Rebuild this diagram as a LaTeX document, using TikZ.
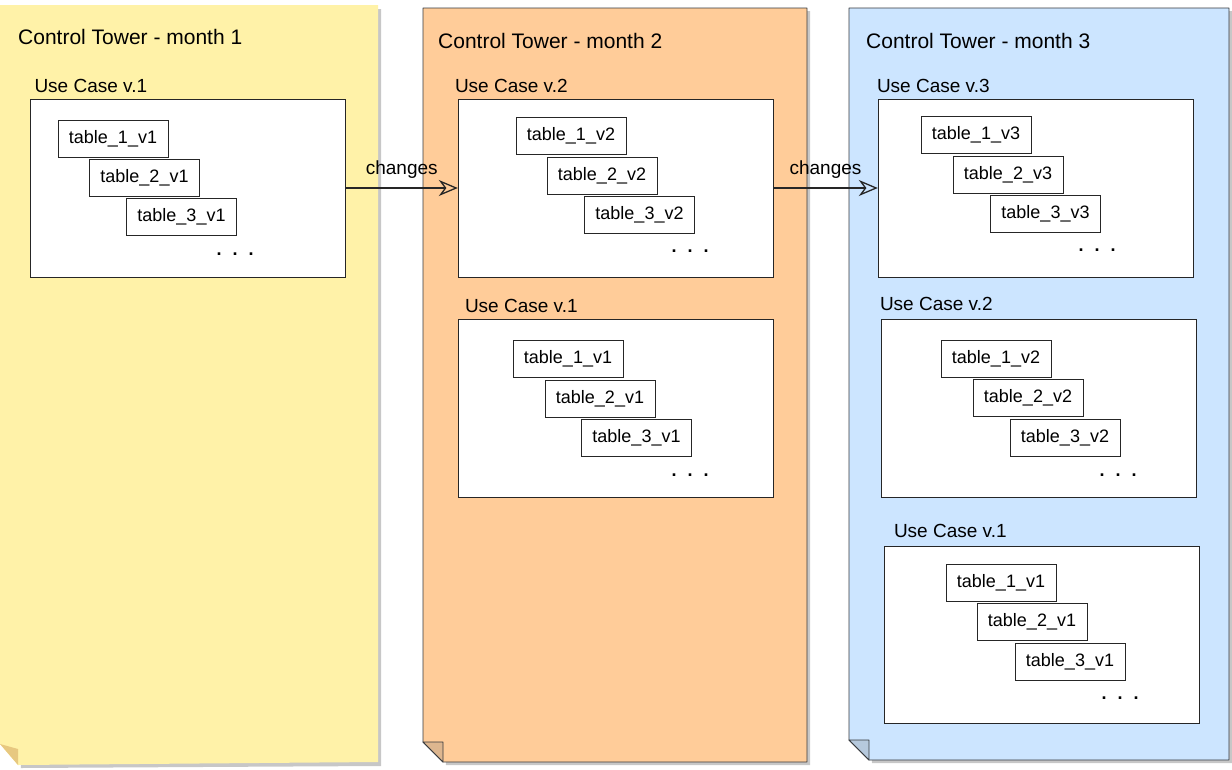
\documentclass[tikz,border=0pt]{standalone}
\usepackage{fontspec}
\setmainfont{Liberation Sans}
\usetikzlibrary{arrows.meta, positioning}

\definecolor{noteyellow}{HTML}{FFF2A8}
\definecolor{noteorange}{HTML}{FFCC99}
\definecolor{noteblue}{HTML}{CCE5FF}
\definecolor{sketch}{HTML}{36393D}

\newcommand{\moredots}{.\hspace{11pt}.\hspace{11pt}.}

\begin{document}
\begin{tikzpicture}[x=1pt, y=-1pt,
  shade/.style={fill=black!22, draw=none},
  fold/.style={draw=sketch, line width=0.9pt, line join=round},
  ucbox/.style={draw=black!85, fill=white, minimum width=315pt, minimum height=178pt, inner sep=0pt},
  tbl/.style={draw=black!85, fill=white, minimum width=110pt, minimum height=37pt, inner sep=0pt, font=\fontsize{18}{20}\selectfont},
  towertitle/.style={anchor=base west, inner sep=0pt, font=\fontsize{21}{24}\selectfont},
  uclabel/.style={anchor=base west, inner sep=0pt, font=\fontsize{19}{22}\selectfont},
  moredots/.style={inner sep=0pt, font=\fontsize{18}{20}\bfseries\selectfont},
  flow/.style={-{Stealth[open, length=19pt, width=16pt, inset=6pt, line width=1.3pt]}, draw=black!85, line width=1.1pt},
  label/.style={font=\fontsize{19}{22}\selectfont, inner sep=0pt}
]
\useasboundingbox (0,0) rectangle (1232,769);

% Notes (month columns)
\fill[shade] (3,9) -- (381,9) -- (381,766) -- (21,768) -- cycle;
\fill[noteyellow] (0,5) -- (378,5) -- (378,762) -- (18,765) -- (0,744) -- cycle;
\fill[noteyellow!80!orange!90!black!95] (0,744) -- (18,749) -- (18,765) -- cycle;

\fill[shade] (426,11) -- (810,11) -- (810,765) -- (446,765) -- cycle;
\filldraw[fill=noteorange, fold] (423,8) -- (807,8) -- (807,762) -- (443,762) -- (423,742) -- cycle;
\filldraw[fill=noteorange!85!black!90, fold] (423,742) -- (443,742) -- (443,762) -- cycle;

\fill[shade] (852,11) -- (1232,11) -- (1232,763) -- (872,763) -- cycle;
\filldraw[fill=noteblue, fold] (849,8) -- (1229,8) -- (1229,760) -- (869,760) -- (849,740) -- cycle;
\filldraw[fill=noteblue!85!black!90, fold] (849,740) -- (869,740) -- (869,760) -- cycle;

% Titles
\node[towertitle] (title1) at (18,44) {Control Tower - month 1};
\node[towertitle] (title2) at (438,48) {Control Tower - month 2};
\node[towertitle] (title3) at (866,48) {Control Tower - month 3};

% Month 1
\node[ucbox] (uc11) at (188,188) {};
\node[uclabel] (lab11) at ([xshift=4pt, yshift=6pt]uc11.north west) {Use Case v.1};
\node[tbl] (t111) at (113,138.5) {table\_1\_v1};
\node[tbl] (t112) at (144.5,178) {table\_2\_v1};
\node[tbl] (t113) at (181.5,217) {table\_3\_v1};
\node[moredots] (d11) at (235,254) {\moredots};

% Month 2
\node[ucbox] (uc22) at (615.5,188) {};
\node[uclabel] (lab22) at ([xshift=-3pt, yshift=6pt]uc22.north west) {Use Case v.2};
\node[tbl] (t221) at (571,135.5) {table\_1\_v2};
\node[tbl] (t222) at (602,175.5) {table\_2\_v2};
\node[tbl] (t223) at (639.5,214.5) {table\_3\_v2};
\node[moredots] (d22) at (690,251) {\moredots};

\node[ucbox] (uc21) at (615.5,408) {};
\node[uclabel] (lab21) at ([xshift=7pt, yshift=6pt]uc21.north west) {Use Case v.1};
\node[tbl] (t211) at (568,358.5) {table\_1\_v1};
\node[tbl] (t212) at (600,399) {table\_2\_v1};
\node[tbl] (t213) at (636.5,438) {table\_3\_v1};
\node[moredots] (d21) at (690,475) {\moredots};

% Month 3
\node[ucbox] (uc33) at (1035.5,188) {};
\node[uclabel] (lab33) at ([xshift=-1pt, yshift=6pt]uc33.north west) {Use Case v.3};
\node[tbl] (t331) at (976,135) {table\_1\_v3};
\node[tbl] (t332) at (1008,175) {table\_2\_v3};
\node[tbl] (t333) at (1045.5,214) {table\_3\_v3};
\node[moredots] (d33) at (1097,250) {\moredots};

\node[ucbox] (uc32) at (1038.5,408) {};
\node[uclabel] (lab32) at ([xshift=-1pt, yshift=8pt]uc32.north west) {Use Case v.2};
\node[tbl] (t321) at (996,358.5) {table\_1\_v2};
\node[tbl] (t322) at (1028,398) {table\_2\_v2};
\node[tbl] (t323) at (1065,438) {table\_3\_v2};
\node[moredots] (d32) at (1118,475) {\moredots};

\node[ucbox, minimum height=177pt] (uc31) at (1041.5,634.5) {};
\node[uclabel] (lab31) at ([xshift=10pt, yshift=8pt]uc31.north west) {Use Case v.1};
\node[tbl] (t311) at (1001,583) {table\_1\_v1};
\node[tbl] (t312) at (1032,622) {table\_2\_v1};
\node[tbl] (t313) at (1070,662) {table\_3\_v1};
\node[moredots] (d31) at (1120,698) {\moredots};

% Arrows between months
\draw[flow] (uc11) -- node[label, above=9pt]{changes} (uc22);
\draw[flow] (uc22) -- node[label, above=9pt]{changes} (uc33);

\end{tikzpicture}
\end{document}
